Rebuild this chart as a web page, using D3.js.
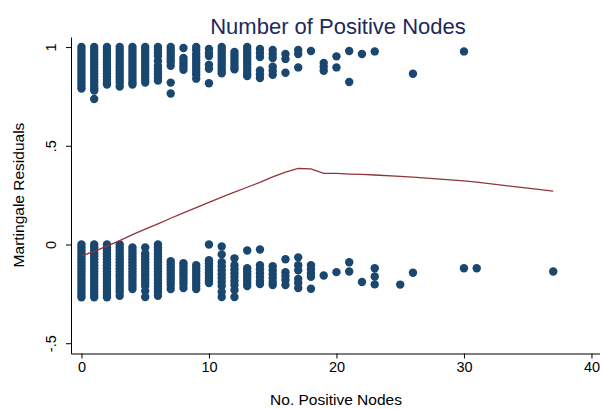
<!DOCTYPE html>
<html>
<head>
<meta charset="utf-8">
<script src="https://cdn.jsdelivr.net/npm/d3@7"></script>
<style>
  html, body { margin: 0; padding: 0; background: #ffffff; }
  svg { display: block; font-family: "Liberation Sans", Arial, Helvetica, sans-serif; }
</style>
</head>
<body>
<svg id="chart" width="604" height="409"></svg>
<script>
// Number of positive nodes observed in the sample (one column of residuals each)
const nodeValues = [0, 1, 2, 3, 4, 5, 6, 7, 8, 9, 10, 11, 12, 13, 14, 15, 16, 17, 18,
                    19, 20, 21, 22, 23, 25, 26, 30, 31, 37];

// Martingale residuals of patients who had the event (upper band), per node value
const eventResiduals = {
  0:  [1, .985, .97, .955, .94, .925, .91, .895, .88, .865, .85, .835, .82, .805, .79],
  1:  [1, .985, .97, .955, .94, .925, .91, .895, .88, .865, .85, .835, .82, .805, .79, .78, .737],
  2:  [1, .985, .97, .955, .94, .925, .91, .895, .88, .865, .85, .835, .82, .81],
  3:  [1, .985, .97, .955, .94, .925, .91, .895, .88, .865, .85, .835, .82, .80],
  4:  [1, .985, .97, .955, .94, .925, .91, .895, .88, .865, .85, .835, .82, .81],
  5:  [1, .985, .97, .955, .94, .925, .91, .895, .88, .865, .85, .835, .82],
  6:  [1, .985, .97, .955, .93, .905, .89, .875, .86, .845, .83],
  7:  [1, .985, .97, .955, .94, .925, .905, .82, .765],
  8:  [.995, .945, .93, .915, .90, .885],
  9:  [1, .985, .965, .95, .935, .92, .905, .89, .875, .86, .84],
  10: [.99, .97, .955, .91, .89, .817],
  11: [1, .985, .97, .955, .94, .925, .91, .895, .88, .867],
  12: [.975, .96, .945, .93, .915, .90, .887],
  13: [1, .985, .97, .955, .94, .925, .91, .895, .88, .865, .853],
  14: [.99, .97, .95, .882, .862, .843],
  15: [.985, .965, .945, .90, .88, .86],
  16: [.965, .94, .87],
  17: [.985, .965, .897],
  18: [.98],
  19: [.92, .90, .88],
  20: [.953, .897],
  21: [.98, .823],
  22: [.965],
  23: [.978],
  26: [.865],
  30: [.978]
};

// Martingale residuals of censored patients (lower band), per node value
const censoredResiduals = {
  0:  [0, -.015, -.03, -.045, -.06, -.075, -.09, -.105, -.12, -.135, -.15, -.165, -.18, -.195, -.21, -.225, -.24, -.255, -.267],
  1:  [0, -.015, -.03, -.045, -.06, -.075, -.09, -.105, -.12, -.135, -.15, -.165, -.18, -.195, -.21, -.225, -.24, -.255, -.267],
  2:  [0, -.015, -.03, -.045, -.06, -.075, -.09, -.105, -.12, -.135, -.15, -.165, -.18, -.195, -.21, -.225, -.24, -.255, -.267],
  3:  [0, -.015, -.03, -.045, -.06, -.075, -.09, -.105, -.12, -.135, -.15, -.165, -.18, -.195, -.21, -.225, -.24, -.26],
  4:  [-.015, -.03, -.045, -.06, -.075, -.09, -.105, -.12, -.135, -.15, -.165, -.18, -.195, -.21, -.225],
  5:  [-.015, -.045, -.06, -.075, -.09, -.105, -.12, -.135, -.15, -.165, -.18, -.195, -.21, -.235, -.266],
  6:  [0, -.015, -.03, -.045, -.06, -.075, -.09, -.105, -.12, -.135, -.15, -.165, -.18, -.195, -.21, -.225, -.24, -.26],
  7:  [-.085, -.10, -.115, -.13, -.145, -.16, -.175, -.19, -.205, -.225],
  8:  [-.095, -.11, -.125, -.14, -.155, -.17, -.185, -.20, -.22],
  9:  [-.105, -.12, -.135, -.15, -.165, -.18, -.195, -.21, -.225],
  10: [0, -.08, -.095, -.11, -.125, -.14, -.155, -.17, -.185, -.195],
  11: [-.01, -.05, -.09, -.11, -.13, -.15, -.17, -.19, -.21, -.24, -.266],
  12: [-.07, -.105, -.125, -.145, -.165, -.185, -.205, -.23, -.266],
  13: [-.03, -.12, -.135, -.15, -.165, -.18, -.195, -.21],
  14: [-.025, -.105, -.125, -.145, -.165, -.185, -.20],
  15: [-.11, -.13, -.15, -.17, -.19, -.205],
  16: [-.075, -.14, -.16, -.18, -.205],
  17: [-.065, -.105, -.13, -.175, -.195, -.22],
  18: [-.105, -.125, -.145, -.163, -.224],
  19: [-.157],
  20: [-.14],
  21: [-.09, -.137],
  22: [-.19],
  23: [-.12, -.162, -.202],
  25: [-.203],
  26: [-.143],
  30: [-.12],
  31: [-.12],
  37: [-.137]
};

// Smoothed residuals (lowess) evaluated at each observed node value
const smoothNodes = [0, 1, 2, 3, 4, 5, 6, 7, 8, 9, 10, 11, 12, 13, 14, 15, 16, 17, 18,
                     19, 20, 21, 22, 23, 25, 26, 30, 31, 37];
const smoothResiduals = [-0.058, -0.035, -0.008, 0.02, 0.05, 0.078, 0.105, 0.133, 0.16, 0.187,
                         0.213, 0.24, 0.265, 0.29, 0.315, 0.343, 0.367, 0.385, 0.383,
                         0.36, 0.36, 0.357, 0.355, 0.352, 0.345, 0.341, 0.322, 0.316, 0.27];

// Axis ticks
const xTickValues = [0, 10, 20, 30, 40];
const yTickValues = [-0.5, 0, 0.5, 1];
const yTickLabels = ["-.5", "0", ".5", "1"];

const titleText = "Number of Positive Nodes";
const xTitle = "No. Positive Nodes";
const yTitle = "Martingale Residuals";

const navy = "#1a476f";
const maroon = "#90353b";
const axisColor = "#000000";

const svg = d3.select("#chart");

const x = d3.scaleLinear().domain([-0.82, 40.63]).range([71, 599.5]);
const y = d3.scaleLinear().domain([-0.552, 1.051]).range([353.5, 37]);

// Flatten residual tables into points
const points = [];
nodeValues.forEach(n => {
  (eventResiduals[n] || []).forEach(r => points.push({ n, r }));
  (censoredResiduals[n] || []).forEach(r => points.push({ n, r }));
});

// Scatter of residuals
svg.append("g")
  .selectAll("circle")
  .data(points)
  .join("circle")
  .attr("cx", d => x(d.n))
  .attr("cy", d => y(d.r))
  .attr("r", 4.2)
  .attr("fill", navy);

// Lowess smooth
const line = d3.line()
  .x((d, i) => x(smoothNodes[i]))
  .y(d => y(d));

svg.append("path")
  .datum(smoothResiduals)
  .attr("d", line)
  .attr("fill", "none")
  .attr("stroke", maroon)
  .attr("stroke-width", 1.3);

// X axis
const xAxis = svg.append("g")
  .attr("transform", "translate(0,353.5)")
  .call(d3.axisBottom(x).tickValues(xTickValues).tickSize(5).tickSizeOuter(0).tickPadding(3));
xAxis.select(".domain").attr("stroke", axisColor).attr("stroke-width", 1);
xAxis.selectAll(".tick line").attr("stroke", axisColor);
xAxis.selectAll(".tick text")
  .attr("font-size", "14.5px")
  .attr("fill", "#000")
  .attr("font-family", "Liberation Sans, Arial, sans-serif");

// Y axis
const yAxis = svg.append("g")
  .attr("transform", "translate(71,0)")
  .call(d3.axisLeft(y).tickValues(yTickValues).tickSize(5).tickSizeOuter(0)
    .tickFormat((d, i) => yTickLabels[i]));
yAxis.select(".domain").attr("stroke", axisColor).attr("stroke-width", 1);
yAxis.selectAll(".tick line").attr("stroke", axisColor);
yAxis.selectAll(".tick text")
  .attr("font-size", "14.5px")
  .attr("fill", "#000")
  .attr("font-family", "Liberation Sans, Arial, sans-serif")
  .attr("x", null)
  .attr("dy", null)
  .attr("text-anchor", "middle")
  .attr("transform", "translate(-15.5,0) rotate(-90)");

// Titles
svg.append("text")
  .attr("x", 338)
  .attr("y", 34)
  .attr("text-anchor", "middle")
  .attr("font-size", "22px")
  .attr("fill", "#1c2a5c")
  .text(titleText);

svg.append("text")
  .attr("x", 336)
  .attr("y", 405)
  .attr("text-anchor", "middle")
  .attr("font-size", "15.5px")
  .attr("fill", "#000")
  .text(xTitle);

svg.append("text")
  .attr("transform", "translate(24,195) rotate(-90)")
  .attr("text-anchor", "middle")
  .attr("font-size", "15.5px")
  .attr("fill", "#000")
  .text(yTitle);
</script>
</body>
</html>
